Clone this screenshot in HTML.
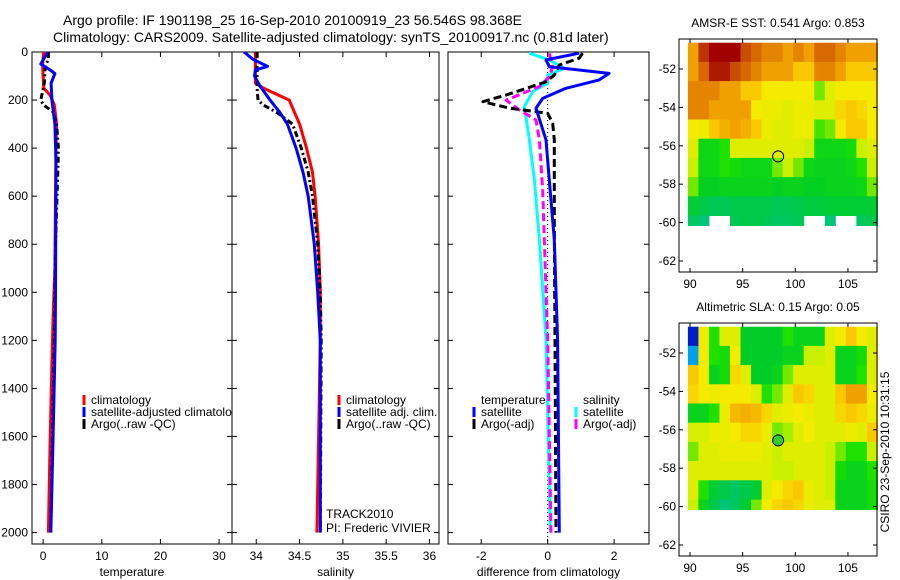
<!DOCTYPE html>
<html><head><meta charset="utf-8"><style>
html,body{margin:0;padding:0;background:#fff;}
svg{display:block;font-family:"Liberation Sans",sans-serif;}
</style></head><body>
<svg id="fig" width="900" height="580" viewBox="0 0 900 580" xmlns="http://www.w3.org/2000/svg">
<text x="63" y="25" font-size="14">Argo profile: IF 1901198_25 16-Sep-2010 20100919_23 56.546S 98.368E</text>
<text x="53" y="42" font-size="14">Climatology: CARS2009. Satellite-adjusted climatology: synTS_20100917.nc (0.81d later)</text>
<g id="p1"></g>
<g id="p2"></g>
<g id="p3"></g>
<g id="m1"></g>
<g id="m2"></g>
<text transform="translate(889,452) rotate(-90)" text-anchor="middle" font-size="12">CSIRO 23-Sep-2010 10:31:15</text>
</svg>
<script>
// ---- profile data ----
const depthTicks = [0,200,400,600,800,1000,1200,1400,1600,1800,2000];
const tClimDepth = [0,50,100,150,180,220,300,400,600,900,1100,1300,1600,2000];
const tClim = [0.1,-0.1,0,0.1,1.2,1.9,2.3,2.2,2.1,2.0,1.7,1.5,1.2,0.9];
const tSatDepth = [0,50,75,90,130,200,300,460,1000,1200,1600,2000];
const tSat = [0.8,-0.4,1.2,2.0,1.35,1.5,2.0,2.2,2.1,2.05,1.7,1.3];
const tArgoDepth = [0,30,60,130,200,220,250,300,400,500,800,1200,1600,2000];
const tArgo = [0.9,0.9,0.35,0.2,-0.4,0.05,1.75,2.3,2.6,2.5,2.1,1.9,1.6,1.3];
const sClimDepth = [0,130,150,200,250,300,400,500,600,800,1000,1200,1600,2000];
const sClim = [33.99,33.99,34.08,34.38,34.44,34.5,34.58,34.65,34.68,34.72,34.74,34.74,34.72,34.70];
const sSatDepth = [0,30,60,75,100,140,200,250,300,400,500,600,800,1000,1200,2000];
const sSat = [33.86,33.96,34.13,33.99,33.98,34.04,34.16,34.27,34.36,34.46,34.54,34.6,34.67,34.71,34.74,34.74];
const sArgoDepth = [0,150,200,220,250,300,400,500,600,800,1000,1200,2000];
const sArgo = [34.01,34.01,34.02,34.08,34.23,34.42,34.52,34.6,34.65,34.71,34.74,34.75,34.74];
const dTSatDepth = [5,33,61,75,89,116,151,193,234,366,533,782,1198,2000];
const dTSat = [0.95,-0.05,0.05,0.95,1.85,1.55,0.55,-0.15,-0.35,-0.05,0.05,0.2,0.3,0.35];
const dTArgoDepth = [5,26,54,96,124,179,207,234,255,297,366,700,1200,2000];
const dTArgo = [1.05,0.95,0.35,0.2,-0.05,-1.25,-1.95,-1.15,0,0.15,0.2,0.2,0.22,0.25];
const dSSatDepth = [5,33,68,96,130,165,227,366,533,782,1198,2000];
const dSSat = [-0.55,0.05,0.5,0,0,-0.45,-0.7,-0.55,-0.4,-0.25,-0.05,0.08];
const dSArgoDepth = [5,61,103,144,200,241,283,366,574,782,1198,2000];
const dSArgo = [0.05,0.15,0.05,-0.25,-1.25,-0.85,-0.35,-0.25,-0.15,-0.1,0,0.1];
// ---- map data ----
const mapLonStart = [89.8,90.8,91.8,92.8,93.8,94.8,95.8,96.8,97.8,98.8,99.8,100.8,101.8,102.8,103.8,104.8,105.8,106.8];
const mapLatTop = [-50.63,-51.63,-52.63,-53.63,-54.63,-55.63,-56.63,-57.63,-58.63,-59.63];
const sstR0=[7,9,10,10,10,8.5,8,7.5,7.5,7,7.5,7,8,8,7.5,7,7,7];
const sstR1=[7,8,9.5,9.5,8.5,8,7.5,7,7,7,6.5,6.5,7.5,7.5,7,6.5,6.5,6.5];
const sstR2=[7.5,7.5,7.5,7,7,6.5,6.5,6,6,6,6,6,4.5,5.5,6,6,6,6];
const sstR3=[7.5,7.5,7,7,7,7,6,5.8,5.8,5.5,5.8,5.8,5.5,5.5,6.3,6.5,6.3,6];
const sstR4=[6,5.8,6.5,6.8,7,6.8,6.5,5.8,5.5,5.5,5.8,5.8,4.2,4.5,6,6.5,6.5,6];
const sstR5=[5.5,3.6,3.6,4,5.5,5.5,5.5,5.5,5.5,5.5,5.5,5,3.6,3.6,3.6,3.8,5,5.5];
const sstR6=[5,3.6,3.6,4,3.8,3.6,3.6,3.6,4.5,5,4.5,3.6,3.5,3.5,3.5,3.6,4,5];
const sstR7=[4.5,3.4,3.4,3.5,3.5,3.5,3.5,3.5,3.4,3.5,3.5,3.4,3.4,3.5,3.5,3.5,3.6,4.5];
const sstR8=[3.2,3.0,2.9,2.9,3.0,3.0,3.0,3.0,2.9,2.9,3.0,3.1,3.1,3.2,3.2,3.2,3.2,3.2];
const sstR9=[2.8,2.6,null,null,2.9,3.0,3.0,2.9,2.8,2.8,2.9,null,null,2.6,null,null,2.8,3.0];
const slaR0=[0.5,6,4,5.5,5.5,3.3,3.3,3.3,3.3,4,3.5,3.5,3.5,5.5,6,6.5,6,5.5];
const slaR1=[1.5,6,4,3.8,6,3.3,3.3,3.3,3.3,3.5,3.5,5,5,5.5,3.5,3.5,3.8,5.5];
const slaR2=[6.5,6,3.5,3.8,6.3,5.5,3.3,3.3,3.5,4.5,5.5,5.5,5.5,5.5,3.5,3.5,4,5.5];
const slaR3=[6.3,6,5.8,6,6,6,5.5,4,4.5,5.5,6.5,6.3,5.5,5.5,6.5,7,7,6];
const slaR4=[3.5,3.5,4,5.8,6.7,6.8,6.7,6.3,5.5,5.8,6,5.8,5.5,5.5,6.3,6.5,6.3,5.8];
const slaR5=[5.3,5.3,5.8,5.8,6,6.3,6.3,5.8,4.5,4.8,5.5,6,5.5,5.5,5.5,5.8,5.5,6.5];
const slaR6=[4.5,5.5,5.5,5.8,5.8,5.8,5.8,5.5,5,5.5,5.5,5.5,5.5,5,4.5,4,4,5];
const slaR7=[5.5,5.5,5.5,5.5,5.5,5.5,5.5,5.5,5,5,5.5,5.5,5.5,5,3.8,3.5,3.5,4];
const slaR8=[5.5,4,3.2,3,2.8,3,3.2,5.5,6,6.3,6.5,5.8,5.5,5,3.5,3.5,3.5,3.8];
const slaR9=[5,3.5,3,2.6,2.8,3.2,4.5,6,6.3,6.5,6.3,5.8,5.5,5.5,3.5,3.5,3.5,3.8];
const lonTicks=[90,95,100,105];
const latTicks=[-52,-54,-56,-58,-60,-62];
const argoLon=98.37, argoLat=-56.55;

const NS="http://www.w3.org/2000/svg";
function mk(parent,tag,attrs){const e=document.createElementNS(NS,tag);for(const k in attrs)e.setAttribute(k,attrs[k]);parent.appendChild(e);return e;}
const Y0=52, YS=0.2403;
const yDepth=d=>Y0+d*YS;

function panel(g,name,x0,x1,dmin,dmax,xticks,xlabels,xtitle,showY){
  const sx=v=>x0+(v-dmin)/(dmax-dmin)*(x1-x0);
  const yb=544;
  const fr=mk(g,'rect',{x:x0,y:Y0,width:x1-x0,height:yb-Y0,fill:'none',stroke:'#000','stroke-width':1});
  
  
  xticks.forEach((t,i)=>{
    const x=sx(t);
    mk(g,'line',{x1:x,x2:x,y1:yb,y2:yb-5,stroke:'#000'});
    mk(g,'line',{x1:x,x2:x,y1:Y0,y2:Y0+5,stroke:'#000'});
    const tx=mk(g,'text',{x:x,y:yb+16,'text-anchor':'middle','font-size':12});
    tx.textContent=xlabels[i];
    
    
  });
  depthTicks.forEach(d=>{
    const y=yDepth(d);
    mk(g,'line',{x1:x0,x2:x0+5,y1:y,y2:y,stroke:'#000'});
    mk(g,'line',{x1:x1,x2:x1-5,y1:y,y2:y,stroke:'#000'});
    if(showY){
      const tx=mk(g,'text',{x:28,y:y+4,'text-anchor':'end','font-size':12});
      tx.textContent=d;
      
      
    }
  });
  const tt=mk(g,'text',{x:(x0+x1)/2,y:yb+32,'text-anchor':'middle','font-size':12});
  tt.textContent=xtitle;
  
  
  return sx;
}
function line(g,sx,depths,vals,color,dash,w,nm,clipId){
  const pts=depths.map((d,i)=>sx(vals[i]).toFixed(1)+','+yDepth(d).toFixed(1)).join(' ');
  const a={points:pts,fill:'none',stroke:color,'stroke-width':w||3,'stroke-linejoin':'round'};
  if(dash)a['stroke-dasharray']=dash;
  if(clipId)a['clip-path']='url(#'+clipId+')';
  const p=mk(g,'polyline',a);
  
  
}
const svg=document.getElementById('fig');
const defs=mk(svg,'defs',{});
[['c1',32,232],['c2',232,439],['c3',448,649]].forEach(c=>{const cp=mk(defs,'clipPath',{id:c[0]});mk(cp,'rect',{x:c[1],y:Y0,width:c[2]-c[1],height:492});});

const g1=document.getElementById('p1');
const sx1=panel(g1,'temperature',32,232,-1.9,32.2,[0,10,20,30],['0','10','20','30'],'temperature',true);
line(g1,sx1,tClimDepth,tClim,'#f00',null,3,'temperature-climatology-line','c1');
line(g1,sx1,tArgoDepth,tArgo,'#000','6 3 2 3',3,'temperature-argo-line','c1');
line(g1,sx1,tSatDepth,tSat,'#00f',null,3,'temperature-satellite-line','c1');
const g2=document.getElementById('p2');
const sx2=panel(g2,'salinity',232,439,33.72,36.11,[34,34.5,35,35.5,36],['34','34.5','35','35.5','36'],'salinity',false);
line(g2,sx2,sClimDepth,sClim,'#f00',null,3,'salinity-climatology-line','c2');
line(g2,sx2,sArgoDepth,sArgo,'#000','6 3 2 3',3,'salinity-argo-line','c2');
line(g2,sx2,sSatDepth,sSat,'#00f',null,3,'salinity-satellite-line','c2');
const g3=document.getElementById('p3');
const sx3=panel(g3,'difference',448,649,-3,3.05,[-2,0,2],['-2','0','2'],'difference from climatology',false);
mk(g3,'line',{x1:sx3(0),x2:sx3(0),y1:Y0,y2:544,stroke:'#000','stroke-width':1,'stroke-dasharray':'1 3'});
line(g3,sx3,dSSatDepth,dSSat,'#0ff',null,3,'salinity-diff-satellite-line','c3');
line(g3,sx3,dSArgoDepth,dSArgo,'#f0f','8 4',3,'salinity-diff-argo-line','c3');
line(g3,sx3,dTArgoDepth,dTArgo,'#000','8 4',3,'temperature-diff-argo-line','c3');
line(g3,sx3,dTSatDepth,dTSat,'#00f',null,3,'temperature-diff-satellite-line','c3');

function legendEntry(g,x,y,color,label,nm,clip){
  mk(g,'line',{x1:x,x2:x,y1:y-9,y2:y+1,stroke:color,'stroke-width':3});
  const t=mk(g,'text',{x:x+7,y:y,'font-size':12});
  if(clip)t.setAttribute('clip-path','url(#'+clip+')');
  t.textContent=label;
  
  
}
legendEntry(g1,84,404,'#f00','climatology','legend-climatology');
legendEntry(g1,84,416,'#00f','satellite-adjusted climatology','legend-satellite-adjusted','c1');
legendEntry(g1,84,428,'#000','Argo(..raw -QC)','legend-argo');
legendEntry(g2,339,404,'#f00','climatology','legend-climatology-2');
legendEntry(g2,339,416,'#00f','satellite adj. clim.','legend-satellite-adj');
legendEntry(g2,339,428,'#000','Argo(..raw -QC)','legend-argo-2');
let t=mk(g2,'text',{x:326,y:518,'font-size':12});t.textContent='TRACK2010';


t=mk(g2,'text',{x:326,y:532,'font-size':12});t.textContent='PI: Frederic VIVIER';


t=mk(g3,'text',{x:481,y:404,'font-size':12});t.textContent='temperature';


t=mk(g3,'text',{x:583,y:404,'font-size':12});t.textContent='salinity';


legendEntry(g3,474,416,'#00f','satellite','legend-temp-satellite');
legendEntry(g3,474,428,'#000','Argo(-adj)','legend-temp-argo');
legendEntry(g3,576,416,'#0ff','satellite','legend-sal-satellite');
legendEntry(g3,576,428,'#f0f','Argo(-adj)','legend-sal-argo');

const cstops=[[0,[0,0,150]],[1,[0,60,255]],[1.6,[0,180,230]],[2.5,[0,195,130]],[3.3,[0,205,40]],[4,[30,225,0]],[5,[200,240,0]],[6,[245,235,0]],[6.5,[250,200,0]],[7,[240,160,0]],[8,[215,105,0]],[10,[160,0,0]]];
function cmap(v){
  for(let i=1;i<cstops.length;i++){if(v<=cstops[i][0]){const a=cstops[i-1],b=cstops[i];const f=(v-a[0])/(b[0]-a[0]);return 'rgb('+a[1].map((c,k)=>Math.round(c+(b[1][k]-c)*f)).join(',')+')';}}
  return 'rgb(160,0,0)';
}
function map(g,name,top,title,rows,marker,markerFill){
  const mx0=679,mx1=877,yAt52=top+30, bottom=top+233;
  const sx=lon=>690+(lon-90)*10.53;
  const sy=lat=>yAt52+(-52-lat)*19.2;
  const tt=mk(g,'text',{x:778,y:top-12,'text-anchor':'middle','font-size':12});
  tt.textContent=title;
  
  
  rows.forEach((row,ri)=>{
    const lt=mapLatTop[ri];
    const lb=Math.max(lt-1,-60.15);
    row.forEach((v,ci)=>{
      if(v===null)return;
      const x=sx(mapLonStart[ci]);
      const c=mk(g,'rect',{x:x.toFixed(2),y:sy(lt).toFixed(2),width:(10.53+0.5).toFixed(2),height:(sy(lb)-sy(lt)+0.5).toFixed(2),fill:cmap(v)});
      
      
    });
  });
  const fr=mk(g,'rect',{x:mx0,y:top,width:mx1-mx0,height:bottom-top,fill:'none',stroke:'#000'});
  
  
  lonTicks.forEach(l=>{
    const x=sx(l);
    mk(g,'line',{x1:x,x2:x,y1:bottom,y2:bottom-4,stroke:'#000'});
    mk(g,'line',{x1:x,x2:x,y1:top,y2:top+4,stroke:'#000'});
    const tx=mk(g,'text',{x:x,y:bottom+16,'text-anchor':'middle','font-size':12});
    tx.textContent=l;
    
    
  });
  latTicks.forEach(l=>{
    const y=sy(l);
    mk(g,'line',{x1:mx0,x2:mx0+4,y1:y,y2:y,stroke:'#000'});
    mk(g,'line',{x1:mx1,x2:mx1-4,y1:y,y2:y,stroke:'#000'});
    const tx=mk(g,'text',{x:676,y:y+4,'text-anchor':'end','font-size':12});
    tx.textContent=l;
    
    
  });
  const m=mk(g,'circle',{cx:sx(marker[0]),cy:sy(marker[1]),r:5.5,fill:markerFill,stroke:'#000','stroke-width':1});
  
  
}
map(document.getElementById('m1'),'sst-map',39,'AMSR-E SST: 0.541 Argo: 0.853',[sstR0,sstR1,sstR2,sstR3,sstR4,sstR5,sstR6,sstR7,sstR8,sstR9],[argoLon,argoLat],'none');
map(document.getElementById('m2'),'sla-map',323,'Altimetric SLA: 0.15 Argo: 0.05',[slaR0,slaR1,slaR2,slaR3,slaR4,slaR5,slaR6,slaR7,slaR8,slaR9],[argoLon,argoLat],'#3c3');
</script>
</body></html>
